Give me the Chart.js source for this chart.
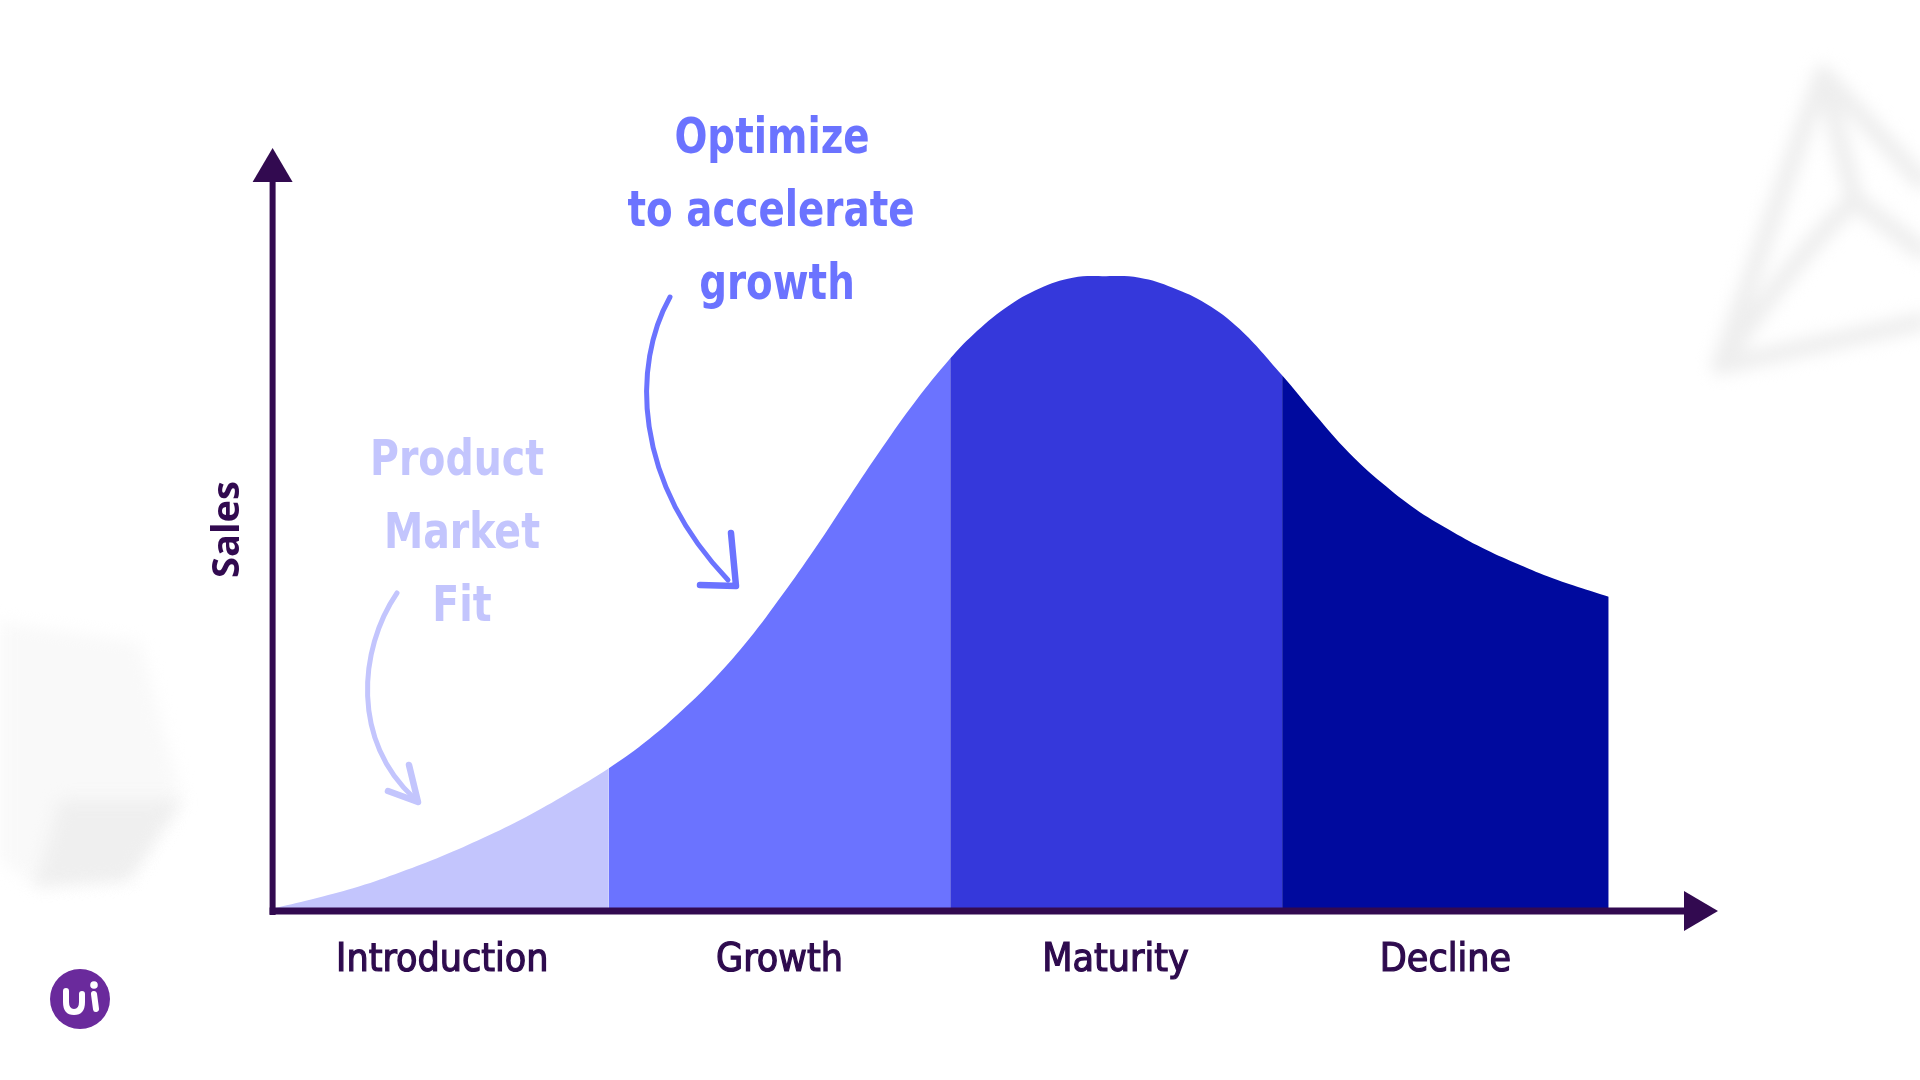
<!DOCTYPE html>
<html>
<head>
<meta charset="utf-8">
<title>Product Life Cycle</title>
<script src="https://cdn.jsdelivr.net/npm/chart.js@4.4.1/dist/chart.umd.min.js"></script>
<style>
  html, body { margin: 0; padding: 0; background: #fff; }
  #wrap { width: 1920px; height: 1080px; position: relative; }
</style>
</head>
<body>
<div id="wrap"><canvas id="lifeCycle"></canvas></div>
<script>
// stages of the product life cycle and where each one starts / ends on the time axis
var stages = ['Introduction', 'Growth', 'Maturity', 'Decline'];
var stageEdges = [0, 25, 50.6, 75.5, 100];
var stageTicks = [12.5, 37.8, 63, 87.75];
var stageColors = ['#c3c5fd', '#6b73ff', '#3538db', '#000a9e'];

// sales curve (time 0-100, sales 0-100)
var timeValues  = [0, 3.1, 6.25, 9.4, 12.5, 15.6, 18.75, 21.9, 25,
                   28, 30.5, 33, 35.5, 38, 40.5, 43, 45.5, 48, 50.6,
                   52.3, 54.8, 57.3, 59.8, 62.3, 64.8, 67.3, 69.8, 72.3, 75.5,
                   78, 80.5, 83, 85.5, 88, 90.5, 93, 95.5, 98, 100];
var salesValues = [0.4, 1.7, 3.2, 5.1, 7.2, 9.6, 12.3, 15.4, 18.7,
                   22.5, 26.3, 30.6, 35.6, 41.4, 47.6, 54.2, 60.7, 66.8, 72.4,
                   75.5, 79.1, 81.6, 83.0, 83.2, 83.0, 81.7, 79.6, 76.3, 70.2,
                   65.0, 60.1, 56.1, 52.7, 50.0, 47.6, 45.6, 43.8, 42.3, 41.2];

var axisColor = '#320a50';

function stageColorAt(x) {
    for (var i = 0; i < stages.length; i++) {
        if (x >= stageEdges[i] && x <= stageEdges[i + 1]) return stageColors[i];
    }
    return stageColors[stageColors.length - 1];
}

function drawTextBlock(ctx, lines, cx, baseY, gap, color, fitLine, fitWidth) {
    ctx.save();
    ctx.font = 'bold 50px "DejaVu Sans Condensed", "DejaVu Sans", sans-serif';
    var sx = fitWidth / ctx.measureText(fitLine).width;
    ctx.fillStyle = color;
    ctx.textAlign = 'center';
    ctx.textBaseline = 'alphabetic';
    lines.forEach(function(t, i) {
        ctx.save();
        ctx.translate(cx[i], baseY + i * gap);
        ctx.scale(sx, 1);
        ctx.fillText(t, 0, 0);
        ctx.restore();
    });
    ctx.restore();
}

function drawBackdrop(chart) {
    var ctx = chart.ctx;
    ctx.save();
    ctx.filter = 'blur(8px)';
    // faint polyhedron bottom left
    ctx.fillStyle = '#f9f9f9';
    ctx.beginPath();
    ctx.moveTo(0, 622); ctx.lineTo(140, 642); ctx.lineTo(182, 800);
    ctx.lineTo(128, 880); ctx.lineTo(35, 886); ctx.lineTo(0, 860);
    ctx.closePath();
    ctx.fill();
    ctx.fillStyle = '#efefef';
    ctx.beginPath();
    ctx.moveTo(60, 800); ctx.lineTo(182, 800); ctx.lineTo(128, 880); ctx.lineTo(35, 886);
    ctx.closePath();
    ctx.fill();
    // faint triangle frame top right
    ctx.strokeStyle = '#eeeeee';
    ctx.lineWidth = 18;
    ctx.lineJoin = 'round';
    ctx.lineCap = 'round';
    ctx.beginPath();
    ctx.moveTo(1920, 180); ctx.lineTo(1823, 74); ctx.lineTo(1720, 366); ctx.lineTo(1920, 322);
    ctx.moveTo(1823, 74); ctx.lineTo(1855, 200); ctx.lineTo(1920, 250);
    ctx.moveTo(1855, 200); ctx.quadraticCurveTo(1800, 250, 1720, 366);
    ctx.stroke();
    ctx.restore();
}

function drawAxesAndNotes(chart) {
    var ctx = chart.ctx;
    var area = chart.chartArea;
    var x0 = area.left;
    var y0 = chart.scales.y.getPixelForValue(0);
    ctx.save();
    ctx.fillStyle = axisColor;
    ctx.strokeStyle = axisColor;
    // y axis with arrow
    ctx.lineWidth = 6;
    ctx.beginPath();
    ctx.moveTo(x0, y0 + 4);
    ctx.lineTo(x0, area.top + 30);
    ctx.stroke();
    ctx.beginPath();
    ctx.moveTo(x0, area.top);
    ctx.lineTo(x0 + 20, area.top + 34);
    ctx.lineTo(x0 - 20, area.top + 34);
    ctx.closePath();
    ctx.fill();
    // x axis with arrow
    ctx.lineWidth = 7;
    ctx.beginPath();
    ctx.moveTo(x0 - 3, y0);
    ctx.lineTo(area.right - 30, y0);
    ctx.stroke();
    ctx.beginPath();
    ctx.moveTo(area.right, y0);
    ctx.lineTo(area.right - 34, y0 - 20);
    ctx.lineTo(area.right - 34, y0 + 20);
    ctx.closePath();
    ctx.fill();
    ctx.restore();

    // notes
    drawTextBlock(ctx, ['Optimize', 'to accelerate', 'growth'], [772, 771, 777], 153, 73, '#6b73ff', 'to accelerate', 287);
    drawTextBlock(ctx, ['Product', 'Market', 'Fit'], [457, 462, 462], 475, 73, '#c3c5fd', 'Product', 174);

    // hand drawn arrows
    ctx.save();
    ctx.lineCap = 'round';
    ctx.lineJoin = 'round';
    ctx.lineWidth = 5;
    ctx.strokeStyle = '#6b73ff';
    ctx.beginPath();
    ctx.moveTo(670, 297);
    ctx.bezierCurveTo(632, 365, 633, 480, 728, 580);
    ctx.stroke();
    ctx.lineWidth = 6.5;
    ctx.beginPath();
    ctx.moveTo(731, 533); ctx.lineTo(736, 586); ctx.lineTo(700, 585);
    ctx.stroke();

    ctx.strokeStyle = '#c3c5fd';
    ctx.lineWidth = 5;
    ctx.beginPath();
    ctx.moveTo(397, 593);
    ctx.bezierCurveTo(358, 650, 352, 742, 414, 798);
    ctx.stroke();
    ctx.lineWidth = 6.5;
    ctx.beginPath();
    ctx.moveTo(409, 765); ctx.lineTo(418, 802); ctx.lineTo(388, 791);
    ctx.stroke();
    ctx.restore();

    // ui logo
    ctx.save();
    ctx.fillStyle = '#6a2a9c';
    ctx.beginPath();
    ctx.arc(80, 999, 30, 0, 2 * Math.PI);
    ctx.fill();
    ctx.strokeStyle = '#fff';
    ctx.fillStyle = '#fff';
    ctx.lineWidth = 6;
    ctx.lineCap = 'round';
    ctx.beginPath();
    ctx.moveTo(66, 991);
    ctx.lineTo(66, 1002);
    ctx.quadraticCurveTo(66, 1012, 74, 1012);
    ctx.quadraticCurveTo(82, 1012, 82, 1002);
    ctx.lineTo(82, 994);
    ctx.stroke();
    ctx.beginPath();
    ctx.moveTo(94, 994);
    ctx.lineTo(96, 1009);
    ctx.stroke();
    ctx.beginPath();
    ctx.arc(94, 985, 3.8, 0, 2 * Math.PI);
    ctx.fill();
    ctx.restore();
}

var points = timeValues.map(function(t, i) { return { x: t, y: salesValues[i] }; });

var ctx = document.getElementById('lifeCycle').getContext('2d');
var lifeCycle = new Chart(ctx, {
    type: 'line',
    data: {
        datasets: [{
            label: 'Sales',
            data: points,
            fill: 'origin',
            borderWidth: 0,
            pointRadius: 0,
            tension: 0.4,
            backgroundColor: stageColors[0],
            segment: {
                backgroundColor: function(c) {
                    return stageColorAt((c.p0.parsed.x + c.p1.parsed.x) / 2);
                }
            }
        }]
    },
    options: {
        responsive: true,
        maintainAspectRatio: false,
        animation: false,
        layout: {
            padding: { left: 205, top: 148, right: 202, bottom: 89 }
        },
        scales: {
            x: {
                type: 'linear',
                min: -0.225,
                max: 108.2,
                grid: { display: false, drawTicks: false },
                border: { display: false },
                afterBuildTicks: function(scale) {
                    scale.ticks = stageTicks.map(function(v) { return { value: v }; });
                },
                afterFit: function(scale) { scale.height = 80; },
                ticks: {
                    autoSkip: false,
                    maxRotation: 0,
                    padding: 26,
                    color: '#2e0b4e',
                    textStrokeColor: '#2e0b4e',
                    textStrokeWidth: 1.2,
                    font: { family: '"DejaVu Sans Condensed", "Liberation Sans Narrow", "Open Sans", sans-serif', size: 39, lineHeight: 1.2 },
                    callback: function(value, index) { return stages[index]; }
                }
            },
            y: {
                min: 0,
                max: 100,
                grid: { display: false, drawTicks: false },
                border: { display: false },
                ticks: { display: false },
                afterFit: function(scale) { scale.width = 67.6; },
                title: {
                    display: true,
                    text: 'Sales',
                    color: axisColor,
                    padding: { top: 0, bottom: 22 },
                    font: { family: '"Open Sans", sans-serif', size: 38, weight: 'bold', lineHeight: 1.2 }
                }
            }
        },
        plugins: {
            legend: { display: false },
            tooltip: { enabled: false }
        }
    },
    plugins: [{
        id: 'lifeCycleDecor',
        beforeDraw: drawBackdrop,
        afterDatasetsDraw: drawAxesAndNotes
    }]
});
</script>
</body>
</html>
